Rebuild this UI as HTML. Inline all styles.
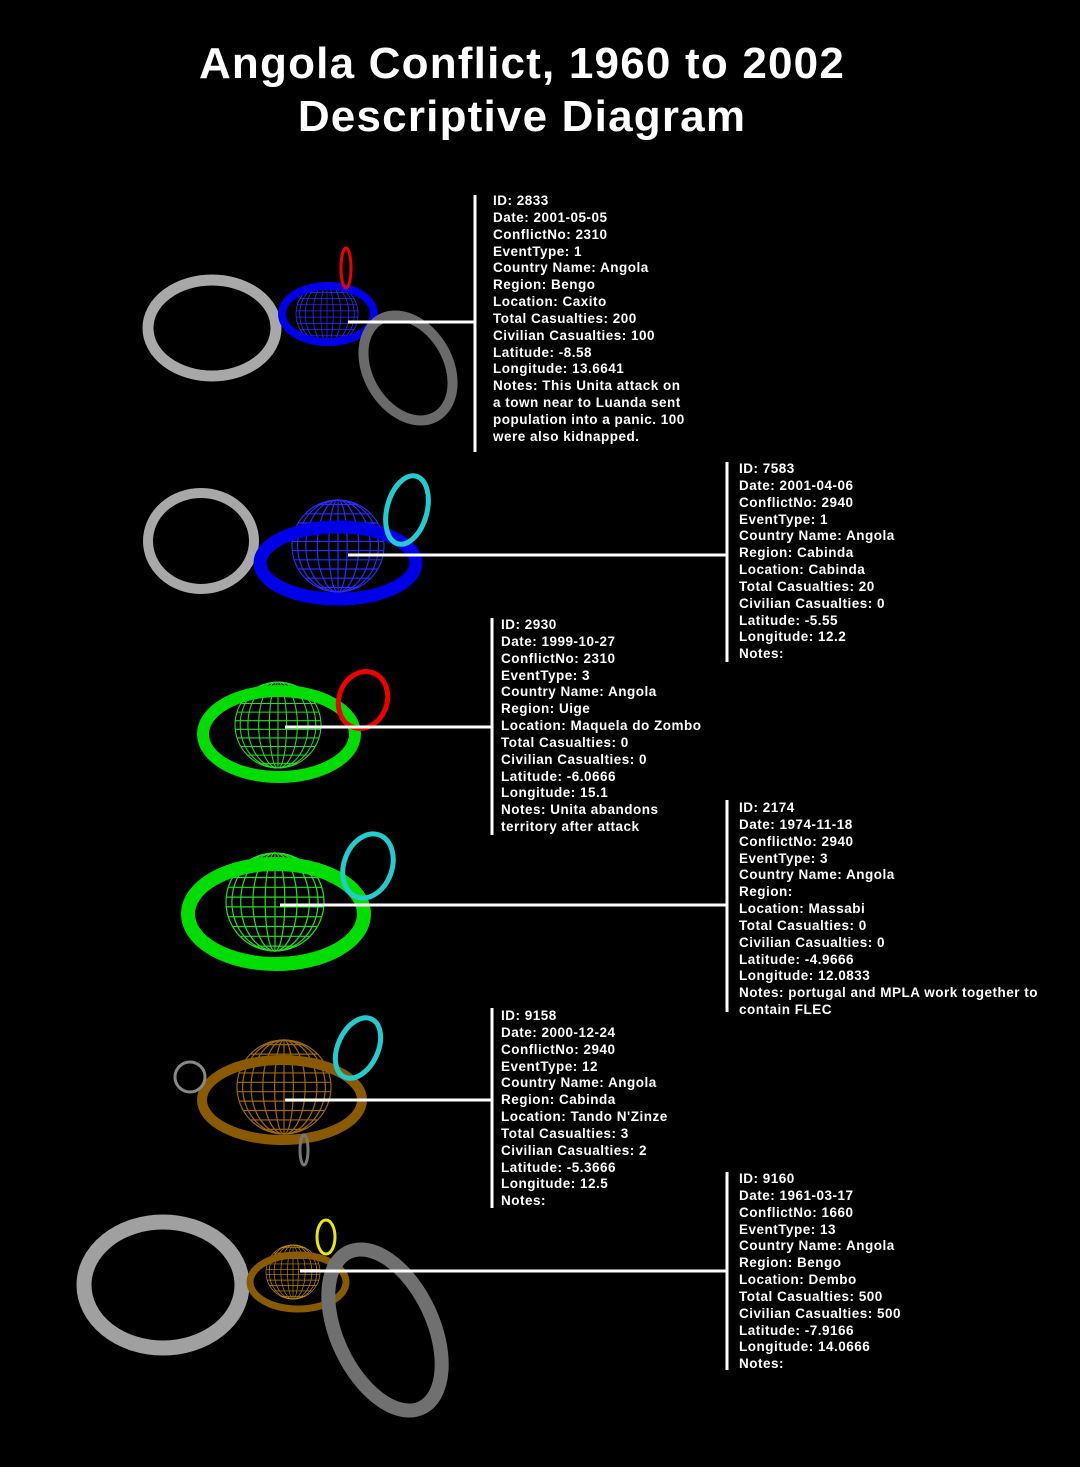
<!DOCTYPE html>
<html><head><meta charset="utf-8"><style>
html,body{margin:0;padding:0;background:#000;}
body{width:1080px;height:1467px;position:relative;overflow:hidden;font-family:"Liberation Sans",Arial,sans-serif;}
h1{position:absolute;left:0;width:1044px;top:37px;margin:0;text-align:center;color:#fff;font-size:44px;line-height:53px;font-weight:bold;letter-spacing:1.2px;}
.t{position:absolute;color:#fff;font-weight:bold;font-size:13.5px;letter-spacing:0.5px;line-height:16.85px;white-space:pre;}
svg{position:absolute;left:0;top:0;}
</style></head><body>
<svg width="1080" height="1467" viewBox="0 0 1080 1467">
<defs>
<symbol id="m" viewBox="-1 -1 2 2" overflow="visible">
<g fill="none" stroke="currentColor" stroke-width="0.025">
<circle r="1"/>
<ellipse rx="0.2" ry="1"/><ellipse rx="0.45" ry="1"/><ellipse rx="0.7" ry="1"/><ellipse rx="0.88" ry="1"/>
<line x1="0" y1="-1" x2="0" y2="1"/>
<line x1="-0.44" y1="-0.9" x2="0.44" y2="-0.9"/>
<line x1="-0.71" y1="-0.7" x2="0.71" y2="-0.7"/>
<line x1="-0.87" y1="-0.5" x2="0.87" y2="-0.5"/>
<line x1="-0.95" y1="-0.3" x2="0.95" y2="-0.3"/>
<line x1="-1" y1="-0.1" x2="1" y2="-0.1"/>
<line x1="-0.99" y1="0.1" x2="0.99" y2="0.1"/>
<line x1="-0.95" y1="0.3" x2="0.95" y2="0.3"/>
<line x1="-0.87" y1="0.5" x2="0.87" y2="0.5"/>
<line x1="-0.71" y1="0.7" x2="0.71" y2="0.7"/>
<line x1="-0.44" y1="0.9" x2="0.44" y2="0.9"/>
</g></symbol>
</defs>
<g fill="none">
<ellipse cx="212" cy="328" rx="64" ry="48" stroke="#a8a8a8" stroke-width="11"/>
<use href="#m" x="296" y="282" width="62" height="64" style="color:#2a2aff"/>
<ellipse cx="328" cy="314" rx="46" ry="28" stroke="#0000e8" stroke-width="8"/>
<ellipse cx="346" cy="268" rx="5" ry="20" stroke="#e00" stroke-width="3"/>
<ellipse cx="408" cy="368" rx="40" ry="56" transform="rotate(-30 408 368)" stroke="#6a6a6a" stroke-width="10"/>
<ellipse cx="201" cy="541" rx="53" ry="48" stroke="#a8a8a8" stroke-width="10"/>
<use href="#m" x="285" y="500" width="106" height="92" style="color:#2a2aff"/>
<ellipse cx="338" cy="563" rx="78" ry="36" stroke="#0000e8" stroke-width="13"/>
<ellipse cx="407" cy="510" rx="20" ry="35" transform="rotate(15 407 510)" stroke="#22cccc" stroke-width="5"/>
<use href="#m" x="228" y="682" width="100" height="86" style="color:#22dd22"/>
<ellipse cx="279" cy="734" rx="76" ry="43" stroke="#00dd00" stroke-width="12"/>
<ellipse cx="363" cy="700" rx="24" ry="29" transform="rotate(20 363 700)" stroke="#e00" stroke-width="5"/>
<use href="#m" x="217" y="853" width="116" height="98" style="color:#22dd22"/>
<ellipse cx="276" cy="914" rx="88" ry="50" stroke="#00dd00" stroke-width="14"/>
<ellipse cx="368" cy="866" rx="24" ry="33" transform="rotate(20 368 866)" stroke="#22cccc" stroke-width="5"/>
<use href="#m" x="230" y="1040" width="108" height="94" style="color:#a06a00"/>
<ellipse cx="282" cy="1100" rx="80" ry="40" stroke="#8a5a00" stroke-width="10"/>
<ellipse cx="358" cy="1048" rx="20" ry="32" transform="rotate(25 358 1048)" stroke="#22cccc" stroke-width="5"/>
<circle cx="190" cy="1077" r="15" stroke="#888" stroke-width="3"/>
<ellipse cx="304" cy="1150" rx="4" ry="15" stroke="#777" stroke-width="3"/>
<ellipse cx="163" cy="1285" rx="79" ry="63" stroke="#a0a0a0" stroke-width="15"/>
<use href="#m" x="265" y="1245" width="56" height="54" style="color:#c08a00"/>
<ellipse cx="298" cy="1282" rx="48" ry="27" stroke="#8a5a00" stroke-width="7"/>
<ellipse cx="326" cy="1237" rx="9" ry="17" stroke="#e8e800" stroke-width="3"/>
<ellipse cx="385" cy="1330" rx="48" ry="86" transform="rotate(-25 385 1330)" stroke="#707070" stroke-width="14"/>
</g>
<g stroke="#fff" stroke-width="3">
<line x1="475" y1="195" x2="475" y2="452"/><line x1="348" y1="322" x2="475" y2="322"/>
<line x1="727" y1="462" x2="727" y2="662"/><line x1="348" y1="555" x2="727" y2="555"/>
<line x1="492" y1="618" x2="492" y2="835"/><line x1="285" y1="727" x2="492" y2="727"/>
<line x1="727" y1="800" x2="727" y2="1012"/><line x1="280" y1="905" x2="727" y2="905"/>
<line x1="492" y1="1008" x2="492" y2="1208"/><line x1="285" y1="1100" x2="492" y2="1100"/>
<line x1="727" y1="1172" x2="727" y2="1370"/><line x1="300" y1="1271" x2="727" y2="1271"/>
</g>
</svg>
<h1>Angola Conflict, 1960 to 2002<br>Descriptive Diagram</h1>
<div class="t" style="left:493px;top:193px">ID: 2833
Date: 2001-05-05
ConflictNo: 2310
EventType: 1
Country Name: Angola
Region: Bengo
Location: Caxito
Total Casualties: 200
Civilian Casualties: 100
Latitude: -8.58
Longitude: 13.6641
Notes: This Unita attack on
a town near to Luanda sent
population into a panic. 100
were also kidnapped.</div>
<div class="t" style="left:739px;top:461px">ID: 7583
Date: 2001-04-06
ConflictNo: 2940
EventType: 1
Country Name: Angola
Region: Cabinda
Location: Cabinda
Total Casualties: 20
Civilian Casualties: 0
Latitude: -5.55
Longitude: 12.2
Notes:</div>
<div class="t" style="left:501px;top:617px">ID: 2930
Date: 1999-10-27
ConflictNo: 2310
EventType: 3
Country Name: Angola
Region: Uige
Location: Maquela do Zombo
Total Casualties: 0
Civilian Casualties: 0
Latitude: -6.0666
Longitude: 15.1
Notes: Unita abandons
territory after attack</div>
<div class="t" style="left:739px;top:800px">ID: 2174
Date: 1974-11-18
ConflictNo: 2940
EventType: 3
Country Name: Angola
Region:
Location: Massabi
Total Casualties: 0
Civilian Casualties: 0
Latitude: -4.9666
Longitude: 12.0833
Notes: portugal and MPLA work together to
contain FLEC</div>
<div class="t" style="left:501px;top:1008px">ID: 9158
Date: 2000-12-24
ConflictNo: 2940
EventType: 12
Country Name: Angola
Region: Cabinda
Location: Tando N'Zinze
Total Casualties: 3
Civilian Casualties: 2
Latitude: -5.3666
Longitude: 12.5
Notes:</div>
<div class="t" style="left:739px;top:1171px">ID: 9160
Date: 1961-03-17
ConflictNo: 1660
EventType: 13
Country Name: Angola
Region: Bengo
Location: Dembo
Total Casualties: 500
Civilian Casualties: 500
Latitude: -7.9166
Longitude: 14.0666
Notes:</div>
</body></html>
